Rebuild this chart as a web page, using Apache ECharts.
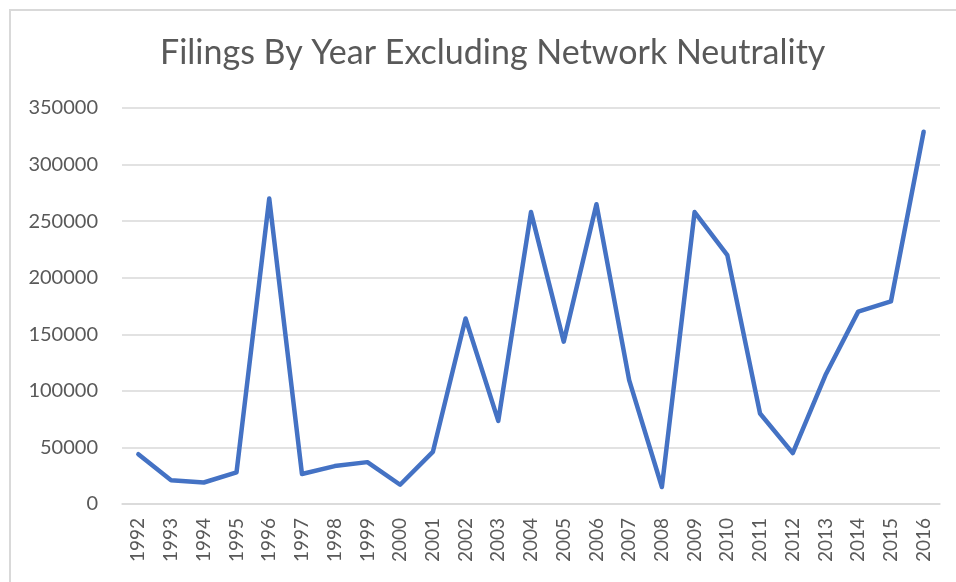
<!DOCTYPE html>
<html>
<head>
<meta charset="utf-8">
<script src="https://cdn.jsdelivr.net/npm/echarts@6/dist/echarts.min.js"></script>
<style>
  html, body { margin: 0; padding: 0; background: #fff; }
  #chart { width: 956px; height: 582px; }
</style>
</head>
<body>
<div id="chart"></div>
<script>
// data
const years = ['1992', '1993', '1994', '1995', '1996', '1997', '1998', '1999', '2000',
  '2001', '2002', '2003', '2004', '2005', '2006', '2007', '2008', '2009', '2010',
  '2011', '2012', '2013', '2014', '2015', '2016'];
const filings = [44000, 21000, 19000, 28000, 270000, 26500, 33500, 37000, 17000,
  46000, 164000, 73500, 258000, 143500, 265000, 109500, 15000, 258000, 220000,
  80000, 45000, 114000, 170000, 179000, 329000];

const textColor = '#595959';
const myChart = echarts.init(document.getElementById('chart'));

myChart.setOption({
  animation: false,
  title: {
    text: 'Filings By Year Excluding Network Neutrality',
    left: 155,
    top: 31,
    textStyle: {
      fontFamily: 'Lato',
      fontSize: 34,
      fontWeight: 'normal',
      color: textColor
    }
  },
  // light frame round the chart area, like the exported picture
  graphic: [{
    type: 'rect',
    shape: { x: 10, y: 10, width: 1000, height: 1000 },
    style: { fill: 'none', stroke: '#d9d9d9', lineWidth: 2 },
    silent: true
  }],
  grid: { left: 122, right: 16, top: 108, bottom: 78 },
  xAxis: {
    type: 'category',
    data: years,
    boundaryGap: true,
    axisLine: { show: true, lineStyle: { color: '#d9d9d9', width: 1.5 } },
    axisTick: { show: false },
    axisLabel: {
      rotate: 90,
      interval: 0,
      margin: 14,
      fontFamily: 'Lato',
      fontSize: 19,
      color: textColor
    }
  },
  yAxis: {
    type: 'value',
    min: 0,
    max: 350000,
    interval: 50000,
    axisLine: { show: false },
    axisTick: { show: false },
    splitLine: { lineStyle: { color: '#d9d9d9', width: 1.5 } },
    axisLabel: {
      margin: 24,
      fontFamily: 'Lato',
      fontSize: 20,
      color: textColor,
      formatter: v => String(v)
    }
  },
  series: [{
    type: 'line',
    data: filings,
    symbol: 'none',
    lineStyle: { color: '#4472C4', width: 4.5, cap: 'round', join: 'round' }
  }]
});
</script>
</body>
</html>
